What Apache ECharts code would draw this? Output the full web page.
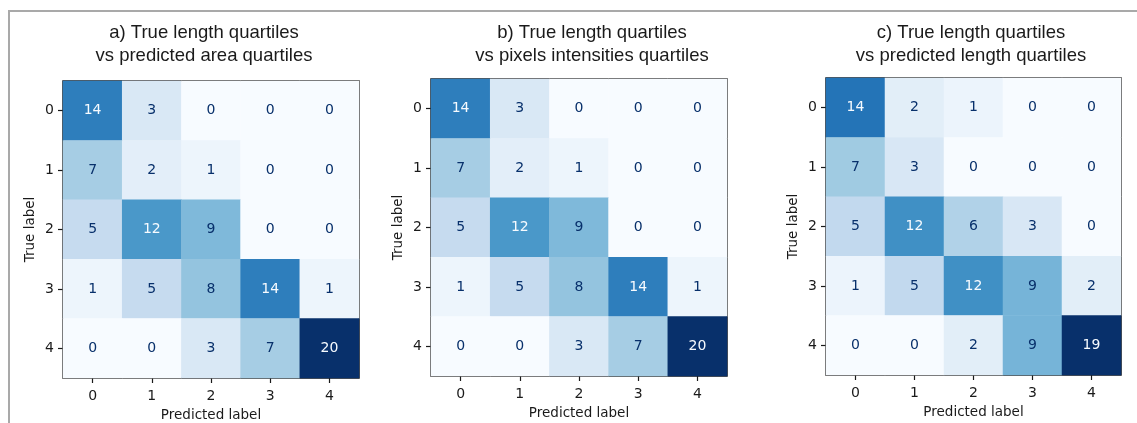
<!DOCTYPE html>
<html>
<head>
<meta charset="utf-8">
<script src="https://cdn.jsdelivr.net/npm/echarts@6/dist/echarts.min.js"></script>
<style>
  html, body { margin: 0; padding: 0; background: #fff; }
  #frame { position: absolute; left: 8px; top: 10px; right: 0; bottom: 0; border-left: 2px solid #a9a9a9; border-top: 2px solid #a9a9a9; }
  #chart { position: absolute; left: 0; top: 0; width: 1137px; height: 423px; }
</style>
</head>
<body>
<div id="frame"></div>
<div id="chart"></div>
<script>
// Quartile class labels shared by both axes
const classes = ['0', '1', '2', '3', '4'];

// Rows = true label, columns = predicted label
const matrixA = [
  [14, 3, 0, 0, 0],
  [7, 2, 1, 0, 0],
  [5, 12, 9, 0, 0],
  [1, 5, 8, 14, 1],
  [0, 0, 3, 7, 20]
];
const matrixB = [
  [14, 3, 0, 0, 0],
  [7, 2, 1, 0, 0],
  [5, 12, 9, 0, 0],
  [1, 5, 8, 14, 1],
  [0, 0, 3, 7, 20]
];
const matrixC = [
  [14, 2, 1, 0, 0],
  [7, 3, 0, 0, 0],
  [5, 12, 6, 3, 0],
  [1, 5, 12, 9, 2],
  [0, 0, 2, 9, 19]
];

const titles = [
  'a) True length quartiles\nvs predicted area quartiles',
  'b) True length quartiles\nvs pixels intensities quartiles',
  'c) True length quartiles\nvs predicted length quartiles'
];

// Matplotlib "Blues" colormap stops
const blues = ['#f7fbff', '#deebf7', '#c6dbef', '#9ecae1', '#6baed6', '#4292c6', '#2171b5', '#08519c', '#08306b'];

const panels = [
  { m: matrixA, left: 63, top: 81, width: 296, height: 297, titleX: 199 },
  { m: matrixB, left: 431, top: 79, width: 296, height: 297, titleX: 587 },
  { m: matrixC, left: 826, top: 78, width: 295, height: 297, titleX: 966 }
];

const option = {
  animation: false,
  backgroundColor: 'transparent',
  title: [], grid: [], xAxis: [], yAxis: [], visualMap: [], series: []
};

const tickFont = { fontFamily: 'DejaVu Sans', fontSize: 14, color: '#1a1a1a' };
const nameFont = { fontFamily: 'DejaVu Sans', fontSize: 13.5, color: '#1a1a1a' };

panels.forEach((p, i) => {
  const flat = p.m.flat();
  const lo = Math.min(...flat), hi = Math.max(...flat);
  const thresh = (lo + hi) / 2;
  const data = [];
  p.m.forEach((row, r) => row.forEach((v, c) => {
    data.push({
      value: [c, r, v],
      label: { color: v > thresh ? blues[0] : blues[8] }
    });
  }));

  option.title.push({
    text: titles[i],
    left: p.titleX, top: 17, textAlign: 'center',
    textStyle: { fontFamily: 'Liberation Sans', fontSize: 18.5, fontWeight: 'normal', color: '#1a1a1a', lineHeight: 22.5 }
  });
  option.grid.push({
    left: p.left, top: p.top, width: p.width, height: p.height,
    containLabel: false, outerBoundsMode: 'none',
    show: true, borderColor: '#1a1a1a', borderWidth: 1.5, backgroundColor: 'transparent'
  });
  option.xAxis.push({
    type: 'category', gridIndex: i, data: classes,
    name: 'Predicted label', nameLocation: 'middle', nameGap: 30,
    nameTextStyle: nameFont,
    axisLine: { show: false },
    axisTick: { show: true, alignWithLabel: true, length: 5, lineStyle: { color: '#1a1a1a', width: 1.2 } },
    axisLabel: Object.assign({ margin: 11 }, tickFont),
    splitLine: { show: false }
  });
  option.yAxis.push({
    type: 'category', gridIndex: i, data: classes, inverse: true,
    name: 'True label', nameLocation: 'middle', nameGap: 26, nameRotate: 90,
    nameTextStyle: nameFont,
    axisLine: { show: false },
    axisTick: { show: true, alignWithLabel: true, length: 5, lineStyle: { color: '#1a1a1a', width: 1.2 } },
    axisLabel: Object.assign({ margin: 9 }, tickFont),
    splitLine: { show: false }
  });
  option.visualMap.push({
    show: false, seriesIndex: i, dimension: 2, min: lo, max: hi,
    inRange: { color: blues }
  });
  option.series.push({
    type: 'heatmap', xAxisIndex: i, yAxisIndex: i, data: data,
    label: { show: true, fontFamily: 'DejaVu Sans', fontSize: 14, formatter: (d) => d.value[2] },
    itemStyle: { borderWidth: 0 },
    emphasis: { disabled: true }
  });
});

const chart = echarts.init(document.getElementById('chart'), null, { renderer: 'canvas' });
chart.setOption(option);
</script>
</body>
</html>
